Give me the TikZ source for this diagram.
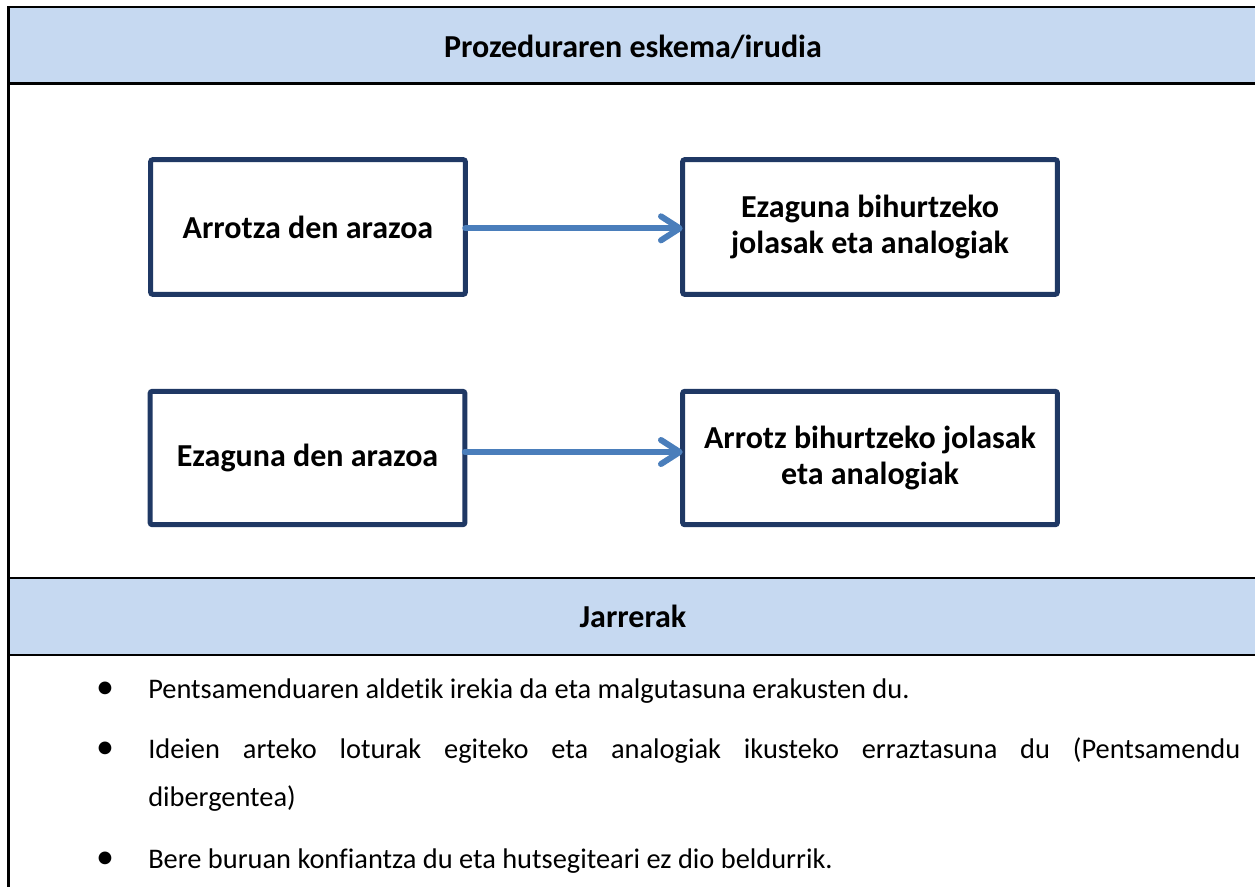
\documentclass[tikz,border=0pt]{standalone}
\usepackage{fontspec}
\setmainfont{Carlito}[Ligatures=NoCommon]
\usetikzlibrary{arrows.meta}
\definecolor{bandblue}{HTML}{C6D9F1}
\definecolor{boxnavy}{HTML}{1F3864}
\definecolor{arrowblue}{HTML}{4A7EBB}
\tikzset{
  rule/.style={line width=2pt, black},
  stepbox/.style={draw=boxnavy, line width=3.7pt, rounded corners=1.5pt, fill=white, align=center,
    font=\fontsize{24}{26.5}\selectfont\bfseries, inner sep=0pt, outer sep=0pt},
  flow/.style={draw=arrowblue, line width=4.5pt, line cap=round,
    -{Straight Barb[length=14pt,width=18pt,round]}},
  heading/.style={font=\fontsize{24}{28}\selectfont\bfseries, anchor=base, inner sep=0pt},
  body/.style={font=\fontsize{21.3}{30}\selectfont, anchor=base west, inner sep=0pt},
  bulletmark/.style={font=\fontsize{27}{30}\selectfont, anchor=base, inner sep=0pt},
}
\begin{document}
\begin{tikzpicture}[x=0.75pt,y=-0.75pt]
\useasboundingbox (0,0) rectangle (1255,886);
% table bands and rules
\fill[bandblue] (8.5,7) rectangle (1256,83.5);
\fill[bandblue] (8.5,578) rectangle (1256,655);
\draw[rule] (1256,7) -- (8.5,7) -- (8.5,887);
\draw[rule] (8.5,83.5) -- (1256,83.5);
\draw[rule] (8.5,578) -- (1256,578);
\draw[rule] (8.5,655) -- (1256,655);
% headings
\node[heading] (title) at (633,57) {Prozeduraren eskema/irudia};
\node[heading] (attitudes) at (633,627) {Jarrerak};
% boxes
\node[stepbox, minimum width=236pt, minimum height=101pt] (box1) at (308,227) {Arrotza den arazoa};
\node[stepbox, minimum width=281pt, minimum height=101pt] (box2) at (870,227) {Ezaguna bihurtzeko\\jolasak eta analogiak};
\node[stepbox, minimum width=236pt, minimum height=100pt] (box3) at (307.5,458) {Ezaguna den arazoa};
\node[stepbox, minimum width=281pt, minimum height=100pt] (box4) at (870,458) {Arrotz bihurtzeko jolasak\\eta analogiak};
% arrows
\draw[flow] ([yshift=-1pt]box1.east) -- ([yshift=-1pt]box2.west);
\draw[flow] ([yshift=4.5pt]box3.east) -- ([yshift=4.5pt]box4.west);
% bullet list
\node[bulletmark] (b1) at (105,698) {•};
\node[body] (t1) at (148,698) {Pentsamenduaren aldetik irekia da eta malgutasuna erakusten du.};
\node[bulletmark] (b2) at (105,758) {•};
\node[body] (t2) at (148,758) {\makebox[819pt][s]{Ideien arteko loturak egiteko eta analogiak ikusteko erraztasuna du (Pentsamendu}};
\node[body] (t2b) at (148,806) {dibergentea)};
\node[bulletmark] (b3) at (105,868) {•};
\node[body] (t3) at (148,868) {Bere buruan konfiantza du eta hutsegiteari ez dio beldurrik.};
\end{tikzpicture}
\end{document}
